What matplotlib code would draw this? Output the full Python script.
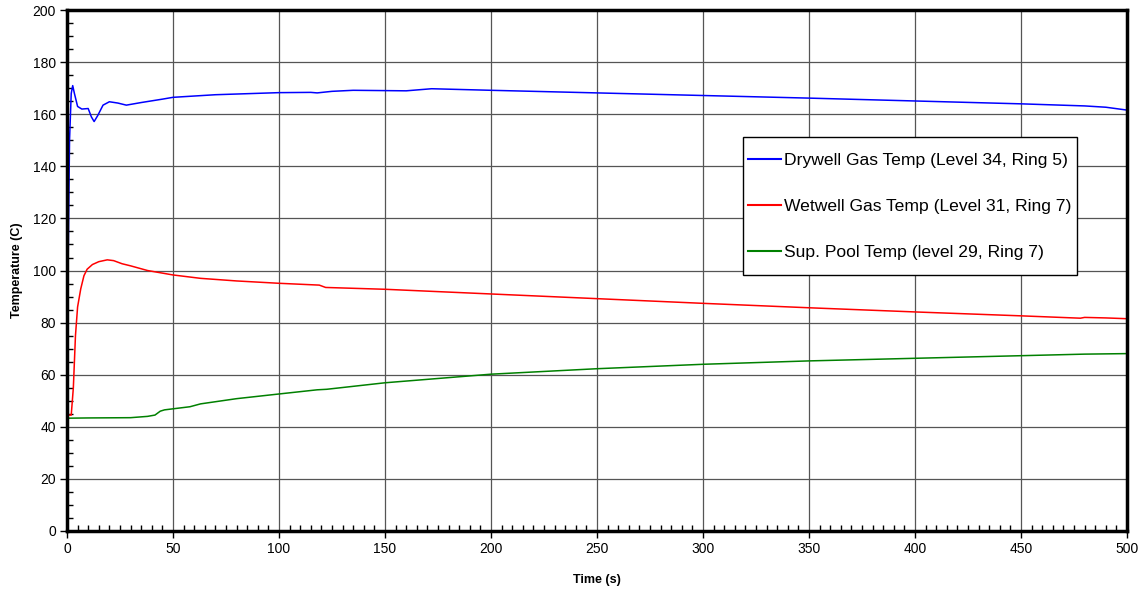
import matplotlib
matplotlib.use('Agg')
import matplotlib.pyplot as plt
from matplotlib.ticker import MultipleLocator
from matplotlib.patches import Rectangle

plt.rcParams['font.family'] = ['Liberation Sans', 'DejaVu Sans']

# time (s) / temperature (C)
drywell_t = [0, 0.5, 1.2, 2, 2.7, 3.5, 5, 7, 10, 11.5, 12.8, 14.5, 17, 20, 24, 28, 35, 45, 50,
             70, 100, 115, 118, 125, 135, 160, 172, 200, 250, 300, 350, 400, 450, 480, 490, 500]
drywell_T = [44, 100, 150, 168, 171, 168, 163, 162, 162.2, 159, 157.2, 159.5, 163.5, 164.8, 164.3,
             163.5, 164.5, 165.8, 166.5, 167.5, 168.3, 168.4, 168.2, 168.8, 169.2, 169, 169.8,
             169.2, 168.2, 167.2, 166.2, 165.1, 164, 163.2, 162.7, 161.6]

wetwell_t = [0, 2, 3, 4, 5, 6.5, 8, 9.5, 12, 15, 19, 22, 24, 26, 30, 38, 50, 63, 80, 100,
             119, 122, 150, 200, 250, 300, 350, 400, 450, 478, 480, 490, 500]
wetwell_T = [44.5, 44.5, 55, 75, 86, 93, 98, 100.5, 102.3, 103.4, 104.1, 103.8, 103.2, 102.6,
             101.8, 100, 98.3, 97, 96, 95.1, 94.4, 93.5, 92.8, 91, 89.2, 87.4, 85.7, 84.1,
             82.6, 81.7, 82, 81.8, 81.5]

pool_t = [0, 10, 30, 38, 41.5, 44, 46, 58, 63, 80, 100, 118, 122.5, 150, 200, 250, 300,
          350, 400, 450, 480, 500]
pool_T = [43.3, 43.4, 43.5, 44, 44.5, 46, 46.5, 47.7, 48.8, 50.8, 52.6, 54.2, 54.4, 56.9,
          60.2, 62.3, 64, 65.3, 66.3, 67.3, 67.9, 68.1]

labels = ['Drywell Gas Temp (Level 34, Ring 5)',
          'Wetwell Gas Temp (Level 31, Ring 7)',
          'Sup. Pool Temp (level 29, Ring 7)']

fig = plt.figure(figsize=(11.47, 5.93), dpi=100)
ax = fig.add_axes([0.0584, 0.1046, 0.9242, 0.8784])

ax.plot(drywell_t, drywell_T, color='#0000ff', linewidth=1.1, label=labels[0])
ax.plot(wetwell_t, wetwell_T, color='#ff0000', linewidth=1.1, label=labels[1])
ax.plot(pool_t, pool_T, color='#008000', linewidth=1.1, label=labels[2])

ax.set_xlim(0, 500)
ax.set_ylim(0, 200)
ax.xaxis.set_major_locator(MultipleLocator(50))
ax.yaxis.set_major_locator(MultipleLocator(20))
ax.xaxis.set_minor_locator(MultipleLocator(5))
ax.yaxis.set_minor_locator(MultipleLocator(5))

ax.grid(True, which='major', color='#555555', linewidth=0.9)
ax.set_axisbelow(True)

for sp in ax.spines.values():
    sp.set_linewidth(2.5)
    sp.set_color('black')

ax.tick_params(which='major', direction='out', length=5, width=1, labelsize=10, pad=3)
ax.tick_params(which='minor', direction='in', length=4, width=1)

ax.set_xlabel('Time (s)', fontsize=9, fontweight='bold', labelpad=13)
ax.set_ylabel('Temperature (C)', fontsize=9, fontweight='bold', labelpad=7)

# legend box is wider vertically than horizontally padded, so draw the frame separately
box = Rectangle((0.6377, 0.4914), 0.3151, 0.2648, transform=ax.transAxes,
                facecolor='white', edgecolor='black', linewidth=1.0, zorder=4)
ax.add_patch(box)
leg = ax.legend(loc='center left', bbox_to_anchor=(0.6425, 0.6225), borderaxespad=0,
                borderpad=0, frameon=False, fontsize=12.6,
                handlelength=1.9, handletextpad=0.17, labelspacing=1.75)
leg.set_zorder(5)
for line in leg.get_lines():
    line.set_linewidth(1.5)

fig.savefig('out.png', dpi=100)
